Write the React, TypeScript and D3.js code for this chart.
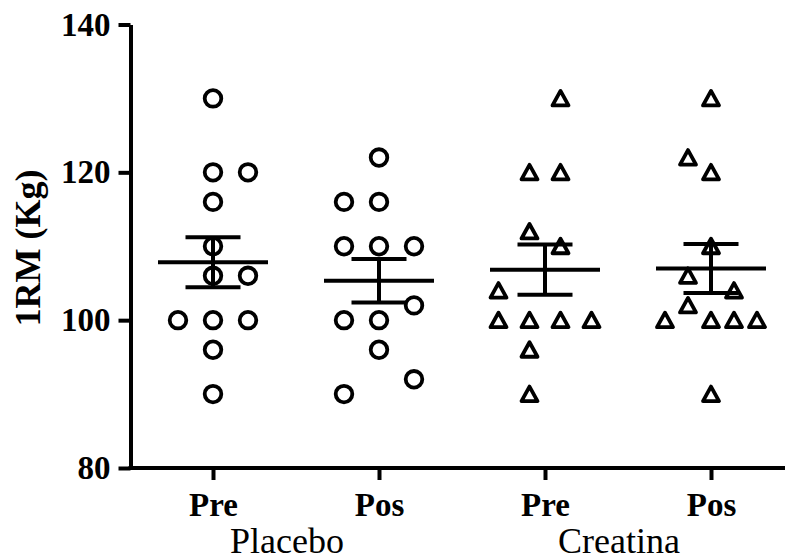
import * as d3 from "d3"
import { useEffect, useRef } from "react"

const groups = ["Placebo Pre", "Placebo Pos", "Creatina Pre", "Creatina Pos"]
const tickLabels = ["Pre", "Pos", "Pre", "Pos"]
const treatments = ["Placebo", "Creatina"]
const yTicks = [80, 100, 120, 140]

// 1RM values per group (kg)
const placeboPre = [130, 120, 120, 116, 110, 106, 106, 100, 100, 100, 96, 90]
const placeboPos = [122, 116, 116, 110, 110, 110, 102, 100, 100, 96, 92, 90]
const creatinaPre = [130, 120, 120, 112, 110, 104, 100, 100, 100, 100, 96, 90]
const creatinaPos = [130, 122, 120, 110, 106, 104, 102, 100, 100, 100, 100, 90]

// horizontal scatter slot of each point (GraphPad style jitter)
const placeboPreSlot = [0, 0, 1, 0, 0, 0, 1, -1, 0, 1, 0, 0]
const placeboPosSlot = [0, -1, 0, -1, 0, 1, 1, -1, 0, 0, 1, -1]
const creatinaPreSlot = [0.5, -0.5, 0.5, -0.5, 0.5, -1.5, -1.5, -0.5, 0.5, 1.5, -0.5, -0.5]
const creatinaPosSlot = [0, -1, 0, 0, -1, 1, -1, -2, 0, 1, 2, 0]

const values = [placeboPre, placeboPos, creatinaPre, creatinaPos]
const slots = [placeboPreSlot, placeboPosSlot, creatinaPreSlot, creatinaPosSlot]
const shapes = ["circle", "circle", "triangle", "triangle"]

const W = 785
const H = 560
const FONT = "'Liberation Serif', 'Times New Roman', serif"

const App = () => {
  const svgRef = useRef<SVGSVGElement>(null)

  useEffect(() => {
    if (!svgRef.current) return
    const svg = d3.select(svgRef.current)
    svg.selectAll("*").remove()

    const axisX = 130.5
    const slotStep = [35, 35, 31, 23]

    const xScale = d3.scalePoint<string>().domain(groups).range([213, 711])
    const yScale = d3.scaleLinear().domain([80, 140]).range([468, 24.5])

    // y axis
    const yAxis = svg
      .append("g")
      .attr("transform", `translate(${axisX},0)`)
      .call(
        d3.axisLeft(yScale).tickValues(yTicks).tickSize(12).tickSizeOuter(0).tickPadding(8),
      )
    yAxis.select(".domain").attr("stroke", "#000").attr("stroke-width", 4)
    yAxis.selectAll(".tick line").attr("stroke", "#000").attr("stroke-width", 4)
    yAxis
      .selectAll(".tick text")
      .attr("fill", "#000")
      .attr("font-family", FONT)
      .attr("font-weight", "bold")
      .attr("font-size", 33)

    // x axis
    svg
      .append("line")
      .attr("x1", axisX - 2)
      .attr("x2", W)
      .attr("y1", yScale(80))
      .attr("y2", yScale(80))
      .attr("stroke", "#000")
      .attr("stroke-width", 4)

    const xAxis = svg
      .append("g")
      .attr("transform", `translate(0,${yScale(80)})`)
      .call(
        d3
          .axisBottom(xScale)
          .tickSize(12)
          .tickSizeOuter(0)
          .tickPadding(13)
          .tickFormat((_, i) => tickLabels[i]),
      )
    xAxis.select(".domain").remove()
    xAxis.selectAll(".tick line").attr("stroke", "#000").attr("stroke-width", 4)
    xAxis
      .selectAll(".tick text")
      .attr("fill", "#000")
      .attr("font-family", FONT)
      .attr("font-weight", "bold")
      .attr("font-size", 33)

    // treatment labels under the pairs
    svg
      .selectAll("text.treatment")
      .data(treatments)
      .join("text")
      .attr("class", "treatment")
      .attr("x", (_, i) => ((xScale(groups[i * 2])! + xScale(groups[i * 2 + 1])!) / 2) - 9)
      .attr("y", 553)
      .attr("text-anchor", "middle")
      .attr("font-family", FONT)
      .attr("font-size", 36)
      .text((d) => d)

    // y title
    svg
      .append("text")
      .attr("transform", "translate(40,248) rotate(-90)")
      .attr("text-anchor", "middle")
      .attr("font-family", FONT)
      .attr("font-weight", "bold")
      .attr("font-size", 36)
      .text("1RM (Kg)")

    const tri = "M0,-7.5L8,7L-8,7Z"

    groups.forEach((g, gi) => {
      const cx = xScale(g)!
      const pts = values[gi].map((v, i) => ({ v, s: slots[gi][i] }))
      const layer = svg.append("g")

      if (shapes[gi] === "circle") {
        layer
          .selectAll("circle")
          .data(pts)
          .join("circle")
          .attr("cx", (d) => cx + d.s * slotStep[gi])
          .attr("cy", (d) => yScale(d.v))
          .attr("r", 8.3)
          .attr("fill", "none")
          .attr("stroke", "#000")
          .attr("stroke-width", 3.8)
      } else {
        layer
          .selectAll("path")
          .data(pts)
          .join("path")
          .attr("d", tri)
          .attr("transform", (d) => `translate(${cx + d.s * slotStep[gi]},${yScale(d.v)})`)
          .attr("fill", "none")
          .attr("stroke", "#000")
          .attr("stroke-width", 3.8)
          .attr("stroke-linejoin", "round")
      }

      // mean +/- SEM
      const mean = d3.mean(values[gi])!
      const sem = d3.deviation(values[gi])! / Math.sqrt(values[gi].length)
      const bars = svg.append("g").attr("stroke", "#000").attr("stroke-width", 4)
      bars
        .append("line")
        .attr("x1", cx - 55)
        .attr("x2", cx + 55)
        .attr("y1", yScale(mean))
        .attr("y2", yScale(mean))
      bars
        .append("line")
        .attr("x1", cx)
        .attr("x2", cx)
        .attr("y1", yScale(mean - sem))
        .attr("y2", yScale(mean + sem))
      ;[mean - sem, mean + sem].forEach((v) => {
        bars
          .append("line")
          .attr("x1", cx - 27.5)
          .attr("x2", cx + 27.5)
          .attr("y1", yScale(v))
          .attr("y2", yScale(v))
      })
    })
  }, [])

  return (
    <svg
      ref={svgRef}
      width={W}
      height={H}
      style={{ position: "absolute", left: 0, top: 0, background: "#fff" }}
    />
  )
}

export default App
